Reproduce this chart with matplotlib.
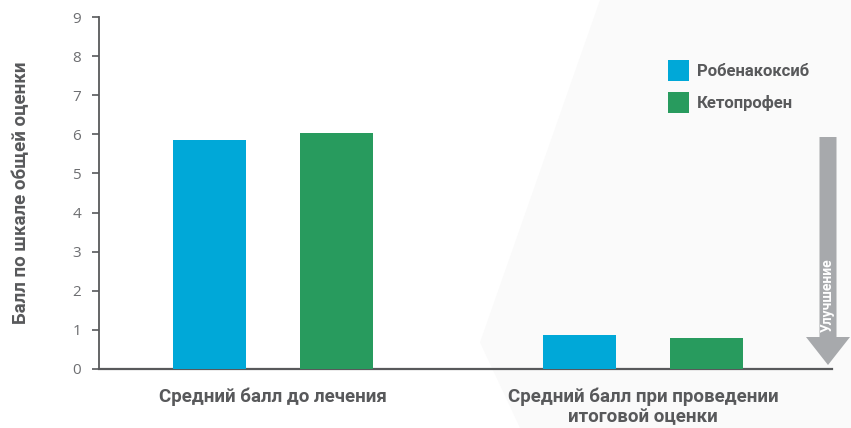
import matplotlib
matplotlib.use("Agg")
import matplotlib.pyplot as plt
from matplotlib.patches import FancyArrow, Polygon, Rectangle

categories = ["Средний балл до лечения", "Средний балл при проведении\nитоговой оценки"]
series_names = ["Робенакоксиб", "Кетопрофен"]
robenacoxib = [5.86, 0.87]
ketoprofen = [6.04, 0.79]
colors = ["#00a8d8", "#289b5e"]
yticks = list(range(0, 10))

text_color = "#58595b"
bold_family = ["Roboto", "DejaVu Sans"]
W, H = 851, 428

fig = plt.figure(figsize=(8.51, 4.28), dpi=100)

# faint background shape (behind axes)
bg = Polygon([(600/W, 1.0), (1.0, 1.0), (1.0, 0.0), (520/W, 0.0), (480/W, 0.2)],
             closed=True, transform=fig.transFigure, facecolor="#fafafa", edgecolor="none", zorder=0)
fig.patches.append(bg)

ax = fig.add_axes([99/W, (H-369)/H, (832-99)/W, (369-17)/H])
ax.set_zorder(2)
ax.set_facecolor("none")

x = [0, 1]
w = 0.197
off = 0.1716
ax.bar([xi - off for xi in x], robenacoxib, width=w, color=colors[0], zorder=3)
ax.bar([xi + off for xi in x], ketoprofen, width=w, color=colors[1], zorder=3)

ax.set_xlim(-0.470, 1.511)
ax.set_ylim(0, 9)
ax.set_yticks(yticks)
ax.set_yticklabels([str(v) for v in yticks], fontsize=11, color="#6d6e71", family="Open Sans")
ax.set_xticks(x)
ax.set_xticklabels(categories, fontsize=13.5, color=text_color, fontweight="bold", family=bold_family,
                   linespacing=1.2)
ax.tick_params(axis="x", length=0, pad=13)
ax.tick_params(axis="y", length=5, width=1.2, color="#58595b", pad=8)
for s in ["top", "right"]:
    ax.spines[s].set_visible(False)
ax.spines["left"].set_color("#58595b")
ax.spines["bottom"].set_color("#58595b")
ax.spines["left"].set_linewidth(1.3)
ax.spines["bottom"].set_linewidth(1.6)

ax.set_ylabel("Балл по шкале общей оценки", fontsize=13.5, fontweight="bold", color=text_color,
              family=bold_family, labelpad=30)

# legend (manual squares + labels)
for i, (name, c) in enumerate(zip(series_names, colors)):
    top = 60 + i * 32
    fig.add_artist(Rectangle((668/W, 1 - (top + 21)/H), 21/W, 21/H, transform=fig.transFigure,
                             facecolor=c, edgecolor="none", zorder=5))
    fig.text(697/W, 1 - (top + 11)/H, name, ha="left", va="center", fontsize=12,
             fontweight="bold", color=text_color, family=bold_family)

# Improvement arrow
arr = FancyArrow(828/W, 1 - 137/H, 0, -(365-137)/H, width=17/W,
                 head_width=44/W, head_length=28/H, length_includes_head=True,
                 transform=fig.transFigure, facecolor="#a7a9ac", edgecolor="none", zorder=5)
fig.patches.append(arr)
fig.text(828/W, 1 - 295/H, "Улучшение", rotation=90, ha="center", va="center",
         color="white", fontsize=10, fontweight="bold", family=bold_family, zorder=6)

fig.savefig("out.png", dpi=100)
